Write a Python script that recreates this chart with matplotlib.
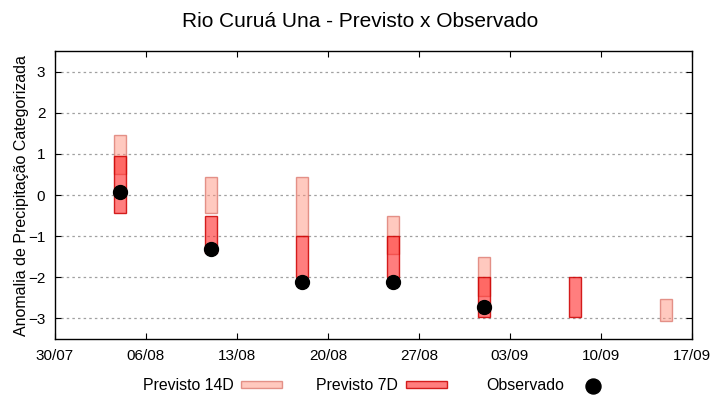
#!/usr/bin/env python3
# -*- coding: utf-8 -*-

# Import packages
from datetime import datetime

import numpy as np
import matplotlib
matplotlib.use("Agg")
import matplotlib.pyplot as plt
import matplotlib.dates as mdates

plt.rcParams["font.family"] = ["Liberation Sans", "DejaVu Sans"]

# DATA
run_dates = ["04/08", "11/08", "18/08", "25/08", "01/09", "08/09", "15/09"]
p14_low = [0.52, -0.44, -1.0, -1.43, -2.45, np.nan, -3.06]
p14_high = [1.45, 0.44, 0.44, -0.51, -1.51, np.nan, -2.52]
p7_low = [-0.44, -1.42, -2.0, -2.0, -2.96, -2.96, np.nan]
p7_high = [0.96, -0.51, -1.0, -1.0, -2.0, -2.0, np.nan]
observed = [0.07, -1.3, -2.11, -2.11, -2.72, np.nan, np.nan]
tick_labels = ["30/07", "06/08", "13/08", "20/08", "27/08", "03/09", "10/09", "17/09"]
legend_labels = ["Previsto 14D", "Previsto 7D", "Observado"]
year = 2024


def to_num(label):
    return mdates.date2num(datetime.strptime(label + "/%d" % year, "%d/%m/%Y"))


x = np.array([to_num(d) for d in run_dates])
p14_low = np.array(p14_low)
p14_high = np.array(p14_high)
p7_low = np.array(p7_low)
p7_high = np.array(p7_high)
ticks = [to_num(t) for t in tick_labels]

fig = plt.figure(figsize=(7.2, 4.0), dpi=100)
ax = fig.add_axes([0.0764, 0.1525, 0.8846, 0.7195])

ax.grid(axis="y", color="#a0a0a0", linestyle=(0, (2, 2.5)), linewidth=0.9, zorder=0)

bars14 = ax.bar(x, p14_high - p14_low, bottom=p14_low, width=0.95,
                facecolor=(1.0, 0.58, 0.5, 0.5), edgecolor=(0.82, 0.35, 0.3, 0.6),
                linewidth=1.0, zorder=2)
bars7 = ax.bar(x, p7_high - p7_low, bottom=p7_low, width=0.95,
               facecolor=(1.0, 0.16, 0.16, 0.6), edgecolor=(0.8, 0.0, 0.0, 0.85),
               linewidth=1.0, zorder=3)
obs_line, = ax.plot(x, observed, linestyle="none", marker="o", markersize=10,
                    color="black", zorder=4)

ax.set_xlim(ticks[0], ticks[-1])
ax.set_ylim(-3.5, 3.5)
ax.set_xticks(ticks)
ax.set_xticklabels(tick_labels)
ax.set_yticks(range(-3, 4))
ax.tick_params(direction="in", top=True, right=True, length=4,
               labelsize=11, colors="black", pad=7)
for spine in ax.spines.values():
    spine.set_linewidth(1.0)

ax.set_ylabel("Anomalia de Precipitação Categorizada", fontsize=11.5, labelpad=-1)
fig.suptitle("Rio Curuá Una - Previsto x Observado", fontsize=15, y=0.97)

# legend entries sit in fixed-width columns below the plot
for handle, label, x_pos in zip([bars14, bars7, obs_line], legend_labels,
                                [0.198, 0.439, 0.676]):
    fig.legend(handles=[handle], labels=[label], loc="center left",
               bbox_to_anchor=(x_pos, 0.035), frameon=False, fontsize=11.4,
               markerfirst=False, handlelength=2.6, handleheight=0.32,
               handletextpad=0.49, borderpad=0, borderaxespad=0,
               markerscale=1.08)

fig.savefig("out.png", dpi=100)
